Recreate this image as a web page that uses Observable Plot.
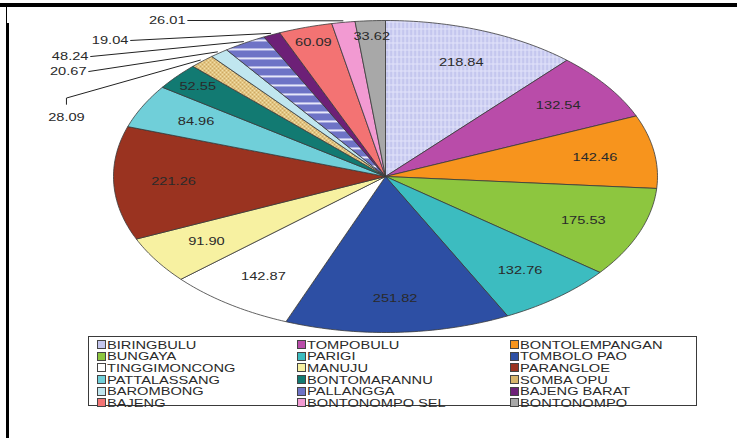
<!DOCTYPE html>
<html>
<head>
<meta charset="utf-8">
<script src="https://cdn.jsdelivr.net/npm/d3@7"></script>
<script src="https://cdn.jsdelivr.net/npm/@observablehq/plot@0.6"></script>
<style>
  html,body{margin:0;padding:0;background:#fff;}
  #page{position:relative;width:737px;height:438px;overflow:hidden;font-family:"Liberation Sans",Arial,sans-serif;}
  #chart{position:absolute;left:0;top:0;}
  .frame{position:absolute;background:#000;}
  #legend{position:absolute;left:88px;top:336px;width:609px;height:70px;border:1.5px solid #3a3a3a;box-sizing:border-box;padding:2px 0 0 8px;display:grid;grid-template-columns:200px 213px 180px;grid-auto-rows:11.6px;}
  .item{display:flex;align-items:center;white-space:nowrap;font-size:11px;color:#2a2a2a;}
  .sw{width:7px;height:7px;border:1px solid #444;margin-right:1px;flex:none;}
  .lab{display:inline-block;transform:scaleX(1.33);transform-origin:left center;}
</style>
</head>
<body>
<div id="page">
  <div id="chart"></div>
  <div class="frame" style="left:0;top:3px;width:737px;height:4px;"></div>
  <div class="frame" style="left:6px;top:5px;width:1px;height:20px;"></div>
  <div class="frame" style="left:6px;top:23px;width:3px;height:415px;"></div>
  <div id="legend"></div>
</div>
<script>
// ---- data ----
const names = ["BIRINGBULU","TOMPOBULU","BONTOLEMPANGAN","BUNGAYA","PARIGI","TOMBOLO PAO",
  "TINGGIMONCONG","MANUJU","PARANGLOE","PATTALASSANG","BONTOMARANNU","SOMBA OPU",
  "BAROMBONG","PALLANGGA","BAJENG BARAT","BAJENG","BONTONOMPO SEL","BONTONOMPO"];
const values = [218.84,132.54,142.46,175.53,132.76,251.82,142.87,91.90,221.26,84.96,52.55,28.09,
  20.67,48.24,19.04,60.09,26.01,33.62];
const colors = ["#c4c6ee","#b94ca9","#f7941d","#8dc63f","#3cbcc0","#2d4fa4","#ffffff","#f7f1a1",
  "#9a3320","#70cfd9","#127a72","#d7b56c","#c0e6ef","#6e73c6","#6d2077","#f37373","#f29ad2","#a8a8a8"];
const patterns = {"BIRINGBULU":"pBir","SOMBA OPU":"pSom","PALLANGGA":"pPal"};

// hand-placed callout labels (pie units: x in horizontal radii, y in vertical radii, up positive)
const callouts = [
  {name:"BONTONOMPO SEL", lx:-0.735, ly:1.0,   anchor:"end"},
  {name:"BAJENG BARAT",   lx:-0.945, ly:0.872, anchor:"end"},
  {name:"PALLANGGA",      lx:-1.092, ly:0.769, anchor:"end"},
  {name:"BAROMBONG",      lx:-1.099, ly:0.673, anchor:"end"},
  {name:"SOMBA OPU",      lx:-1.173, ly:0.378, anchor:"middle"}
];

// ---- geometry from data ----
const total = d3.sum(values);
let acc = 0;
const slices = names.map((name, i) => {
  const a0 = acc / total * 2 * Math.PI; acc += values[i];
  const a1 = acc / total * 2 * Math.PI;
  return {name, value: values[i], a0, a1, mid: (a0 + a1) / 2,
    fill: patterns[name] ? `url(#${patterns[name]})` : colors[i]};
});
const poly = slices.flatMap(s => {
  const n = Math.max(2, Math.ceil((s.a1 - s.a0) / (Math.PI / 180)));
  const pts = [{name: s.name, fill: s.fill, x: 0, y: 0}];
  for (let k = 0; k <= n; k++) {
    const a = s.a0 + (s.a1 - s.a0) * k / n;
    pts.push({name: s.name, fill: s.fill, x: Math.sin(a), y: Math.cos(a)});
  }
  pts.push({name: s.name, fill: s.fill, x: 0, y: 0});
  return pts;
});
const fmt = d3.format(".2f");
const calloutNames = new Set(callouts.map(c => c.name));
const inside = slices.filter(s => !calloutNames.has(s.name)).map(s => {
  const r = s.value >= 70 ? 0.78 : 0.9;
  return {text: fmt(s.value), x: r * Math.sin(s.mid), y: r * Math.cos(s.mid)};
});
const sliceBy = new Map(slices.map(s => [s.name, s]));
const outLabels = callouts.map(c => ({...c, text: fmt(sliceBy.get(c.name).value)}));
const leaders = callouts.flatMap(c => {
  const s = sliceBy.get(c.name);
  const end = {name: c.name, x: 1.01 * Math.sin(s.mid), y: 1.01 * Math.cos(s.mid)};
  if (c.anchor === "end") return [{name: c.name, x: c.lx + 0.008, y: c.ly}, end];
  return [{name: c.name, x: c.lx, y: c.ly + 0.085}, {name: c.name, x: c.lx, y: c.ly + 0.125}, end];
});

// ---- plot ----
const W = 737, H = 336, cx = 385, cy = 176, rx = 272, ry = 156;
const svg = Plot.plot({
  width: W, height: H,
  marginLeft: cx - rx, marginRight: W - (cx + rx), marginTop: cy - ry, marginBottom: H - (cy + ry),
  x: {domain: [-1, 1], axis: null},
  y: {domain: [-1, 1], axis: null},
  color: {type: "identity"},
  style: {fontFamily: "'Liberation Sans', Arial, sans-serif", background: "transparent", overflow: "visible"},
  marks: [
    Plot.line(poly, {x: "x", y: "y", z: "name", fill: "fill", stroke: "#3a3a3a", strokeWidth: 0.8, strokeLinejoin: "round", curve: "linear"}),
    Plot.text(inside, {x: "x", y: "y", text: "text", fontSize: 11, fill: "#2a2a2a"}),
    Plot.line(leaders, {x: "x", y: "y", z: "name", stroke: "#222", strokeWidth: 1, curve: "linear"}),
    Plot.text(outLabels.filter(d => d.anchor === "end"), {x: "lx", y: "ly", text: "text", textAnchor: "end", fontSize: 11, fill: "#2a2a2a"}),
    Plot.text(outLabels.filter(d => d.anchor === "middle"), {x: "lx", y: "ly", text: "text", textAnchor: "middle", fontSize: 11, fill: "#2a2a2a"})
  ]
});

// patterns
const defs = d3.select(svg).insert("defs", ":first-child");
const pB = defs.append("pattern").attr("id", "pBir").attr("patternUnits", "userSpaceOnUse").attr("width", 4).attr("height", 7);
pB.append("rect").attr("width", 4).attr("height", 7).attr("fill", "#c4c6ee");
pB.append("rect").attr("width", 1.2).attr("height", 7).attr("fill", "#e2e3fa");
pB.append("rect").attr("width", 4).attr("height", 1).attr("fill", "#e2e3fa");
const pS = defs.append("pattern").attr("id", "pSom").attr("patternUnits", "userSpaceOnUse").attr("width", 4).attr("height", 4);
pS.append("rect").attr("width", 4).attr("height", 4).attr("fill", "#cfa860");
pS.append("path").attr("d", "M0,0L4,4M4,0L0,4").attr("stroke", "#f3dfa6").attr("stroke-width", 1);
const pP = defs.append("pattern").attr("id", "pPal").attr("patternUnits", "userSpaceOnUse").attr("width", 8).attr("height", 9);
pP.append("rect").attr("width", 8).attr("height", 9).attr("fill", "#6e73c6");
pP.append("rect").attr("y", 3).attr("width", 8).attr("height", 1.8).attr("fill", "#f4f4ff");

// stretch text horizontally like the reference
svg.querySelectorAll("text").forEach(t => {
  const tr = t.getAttribute("transform");
  if (tr) t.setAttribute("transform", tr + " scale(1.33,1)");
  else {
    const x = +t.getAttribute("x") || 0, y = +t.getAttribute("y") || 0;
    t.setAttribute("x", 0); t.setAttribute("y", 0);
    t.setAttribute("transform", `translate(${x},${y}) scale(1.33,1)`);
  }
});
document.getElementById("chart").appendChild(svg);

// legend
const legend = d3.select("#legend");
names.forEach((name, i) => {
  const it = legend.append("div").attr("class", "item");
  it.append("span").attr("class", "sw").style("background", colors[i]);
  it.append("span").attr("class", "lab").text(name);
});
</script>
</body>
</html>
